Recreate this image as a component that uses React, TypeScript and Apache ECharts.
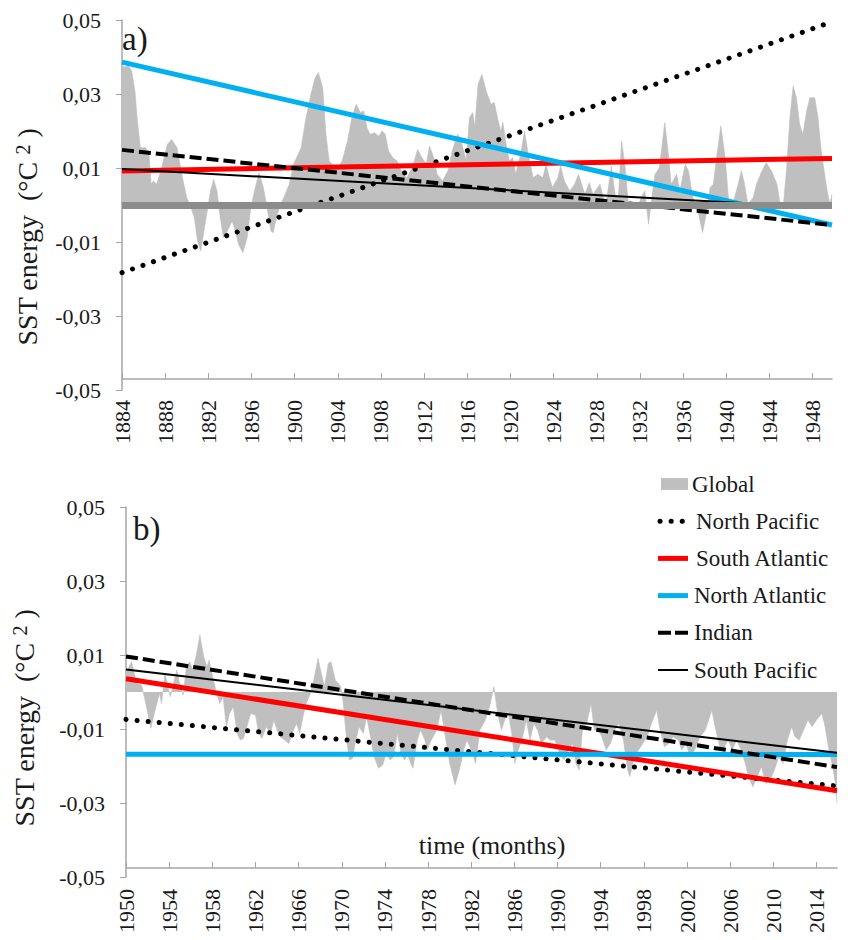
import React, { useEffect, useRef } from 'react';
import * as echarts from 'echarts';

const FONT = 'Liberation Serif';

// ---- axis ticks ----
const tickYearsA = [1884, 1888, 1892, 1896, 1900, 1904, 1908, 1912, 1916, 1920, 1924, 1928, 1932, 1936, 1940, 1944, 1948];
const tickYearsB = [1950, 1954, 1958, 1962, 1966, 1970, 1974, 1978, 1982, 1986, 1990, 1994, 1998, 2002, 2006, 2010, 2014];
const yTicks = [-0.05, -0.03, -0.01, 0.01, 0.03, 0.05];
const spanA = [1884, 1949.8];
const spanB = [1950, 2015.9];

// ---- Global SST energy (°C²), panel a: [year, value] ----
const globalA: [number, number][] = [
  [1884.0, 0.038], [1884.15, 0.0373], [1884.6, 0.0376], [1884.9, 0.0362], [1885.2, 0.0308], [1885.4, 0.0236],
  [1885.7, 0.0155], [1886.2, 0.0155], [1886.5, 0.0137], [1886.7, 0.0056], [1886.9, 0.0065], [1887.2, 0.0056],
  [1887.6, 0.0092], [1888.2, 0.0164], [1888.6, 0.0177], [1889.1, 0.0155], [1889.6, 0.0074], [1890.0, 0.002],
  [1890.3, 0.0], [1890.7, -0.0034], [1891.0, -0.0097], [1891.3, -0.0124], [1891.7, -0.0052], [1892.2, 0.0038],
  [1892.5, 0.0069], [1892.8, 0.0038], [1893.1, -0.0034], [1893.4, -0.0088], [1893.7, -0.0075], [1894.2, -0.0043],
  [1894.5, -0.007], [1894.8, -0.0106], [1895.2, -0.0129], [1895.6, -0.0088], [1895.9, -0.0016], [1896.2, 0.0029],
  [1896.7, 0.0087], [1897.1, 0.0047], [1897.5, -0.0016], [1897.8, -0.007], [1898.0, -0.0075], [1898.4, -0.0025],
  [1898.7, 0.0002], [1899.0, 0.002], [1899.5, 0.0056], [1899.9, 0.011], [1900.6, 0.0155], [1901.0, 0.0227],
  [1901.5, 0.0299], [1901.9, 0.0344], [1902.2, 0.0358], [1902.6, 0.0317], [1902.9, 0.0191], [1903.2, 0.0119],
  [1903.5, 0.011], [1904.0, 0.0101], [1904.4, 0.0119], [1904.9, 0.0173], [1905.3, 0.0236], [1905.7, 0.0272],
  [1906.1, 0.025], [1906.4, 0.0254], [1906.7, 0.0209], [1907.0, 0.0191], [1907.4, 0.0195], [1907.8, 0.0186],
  [1908.1, 0.02], [1908.4, 0.0191], [1908.7, 0.0146], [1909.1, 0.0128], [1909.5, 0.0119], [1910.0, 0.0083],
  [1910.4, 0.0074], [1910.9, 0.0101], [1911.4, 0.015], [1911.8, 0.0128], [1912.2, 0.011], [1912.5, 0.0159],
  [1912.9, 0.0128], [1913.2, 0.0083], [1913.7, 0.0065], [1914.2, 0.0092], [1914.6, 0.0146], [1915.1, 0.0191],
  [1915.4, 0.0177], [1915.9, 0.0119], [1916.2, 0.0236], [1916.5, 0.025], [1916.7, 0.021], [1917.0, 0.0326],
  [1917.35, 0.0353], [1917.75, 0.0308], [1918.2, 0.0272], [1918.5, 0.0277], [1918.8, 0.0236], [1919.1, 0.02],
  [1919.3, 0.0223], [1919.6, 0.0164], [1919.9, 0.0119], [1920.2, 0.0128], [1920.5, 0.0083], [1921.0, 0.0146],
  [1921.3, 0.02], [1921.6, 0.0146], [1922.1, 0.0074], [1922.55, 0.0083], [1923.0, 0.0074], [1923.3, 0.011],
  [1923.6, 0.0074], [1923.9, 0.0047], [1924.4, 0.0074], [1924.65, 0.0105], [1925.0, 0.0065], [1925.5, 0.0038],
  [1925.95, 0.0056], [1926.3, 0.0083], [1926.6, 0.0056], [1926.9, 0.0029], [1927.3, 0.006], [1927.65, 0.0029],
  [1928.3, 0.0056], [1928.6, 0.002], [1928.9, 0.0011], [1929.35, 0.0105], [1929.7, 0.0029], [1930.0, 0.002],
  [1930.3, 0.0173], [1930.6, 0.011], [1930.9, 0.0011], [1931.4, 0.0002], [1931.8, -0.0007], [1932.1, 0.002],
  [1932.45, 0.0038], [1932.8, -0.0052], [1933.1, 0.002], [1933.4, 0.0083], [1933.8, 0.0101], [1934.3, 0.0223],
  [1934.6, 0.0146], [1934.9, 0.0056], [1935.4, 0.0083], [1935.7, 0.0038], [1936.2, 0.011], [1936.5, 0.0092],
  [1936.8, 0.0038], [1937.1, -0.0007], [1937.45, -0.0025], [1937.8, -0.0075], [1938.2, -0.0016], [1938.5, 0.0047],
  [1938.8, 0.0056], [1939.1, 0.0128], [1939.5, 0.0214], [1939.9, 0.0128], [1940.2, 0.002], [1940.6, 0.0002],
  [1941.1, 0.0056], [1941.4, 0.0092], [1941.7, 0.0056], [1942.0, 0.0002], [1942.5, 0.002], [1942.8, 0.0056],
  [1943.3, 0.0092], [1943.7, 0.0114], [1944.2, 0.0092], [1944.7, 0.0056], [1945.0, 0.0002], [1945.3, 0.0002],
  [1945.6, 0.0101], [1945.9, 0.0236], [1946.2, 0.0322], [1946.5, 0.029], [1946.8, 0.0218], [1947.1, 0.0191],
  [1947.45, 0.0254], [1947.75, 0.029], [1948.2, 0.029], [1948.5, 0.0236], [1948.8, 0.0146], [1949.3, 0.0047],
  [1949.6, 0.0002], [1949.8, 0.0029],
];

// ---- Global SST energy (°C²), panel b: [year, value] ----
const globalB: [number, number][] = [
  [1950.0, 0.005], [1950.5, 0.0082], [1951.0, 0.0023], [1951.45, 0.0019], [1951.9, -0.004], [1952.3, -0.0098],
  [1952.7, -0.0049], [1953.1, -0.0004], [1953.3, -0.0031], [1953.6, 0.005], [1953.9, 0.0014], [1954.1, -0.0013],
  [1954.4, 0.0023], [1954.7, 0.0059], [1955.0, 0.0019], [1955.3, -0.0008], [1955.6, 0.0068], [1955.9, 0.0082],
  [1956.2, 0.0059], [1956.55, 0.0105], [1956.85, 0.0154], [1957.2, 0.0095], [1957.5, 0.0068], [1957.7, 0.0086],
  [1958.1, 0.0032], [1958.4, -0.0004], [1958.7, -0.0031], [1959.0, -0.0013], [1959.3, -0.0094], [1959.6, -0.0058],
  [1959.95, -0.004], [1960.3, -0.0112], [1960.6, -0.013], [1960.9, -0.0125], [1961.2, -0.0094], [1961.55, -0.0058],
  [1962.0, -0.0062], [1962.3, -0.0112], [1962.6, -0.0125], [1963.0, -0.0094], [1963.4, -0.0112], [1963.7, -0.0076],
  [1964.0, -0.0103], [1964.3, -0.0121], [1964.7, -0.013], [1965.1, -0.0139], [1965.4, -0.0112], [1965.8, -0.0085],
  [1966.1, -0.0112], [1966.4, -0.0067], [1966.7, -0.0031], [1967.1, -0.0004], [1967.4, 0.0032], [1967.8, 0.0091],
  [1968.1, 0.005], [1968.4, 0.0014], [1968.75, 0.0077], [1969.0, 0.0082], [1969.4, 0.0032], [1969.7, 0.0023],
  [1969.9, 0.0014], [1970.1, -0.0022], [1970.45, -0.013], [1970.7, -0.0184], [1971.0, -0.0179], [1971.3, -0.013],
  [1971.6, -0.0094], [1972.0, -0.0112], [1972.3, -0.0067], [1972.6, -0.0112], [1973.0, -0.0175], [1973.4, -0.0206],
  [1973.8, -0.0197], [1974.1, -0.0166], [1974.5, -0.0184], [1974.8, -0.0175], [1975.15, -0.0112], [1975.5, -0.0166],
  [1975.8, -0.0184], [1976.1, -0.017], [1976.4, -0.0193], [1976.6, -0.0206], [1977.0, -0.013], [1977.3, -0.0103],
  [1977.7, -0.013], [1977.9, -0.0157], [1978.3, -0.013], [1978.8, -0.0103], [1979.2, -0.0049], [1979.6, -0.0121],
  [1980.0, -0.0193], [1980.5, -0.0251], [1980.9, -0.0211], [1981.3, -0.0157], [1981.6, -0.013], [1982.0, -0.0157],
  [1982.4, -0.0193], [1982.8, -0.0103], [1983.3, -0.0076], [1983.7, -0.004], [1984.1, 0.0014], [1984.45, -0.0058],
  [1984.8, -0.0103], [1985.1, -0.0076], [1985.4, -0.0049], [1985.75, -0.0112], [1986.05, -0.0193], [1986.35, -0.0157],
  [1986.7, -0.013], [1987.1, -0.0076], [1987.45, -0.013], [1987.8, -0.0085], [1988.15, -0.0103], [1988.5, -0.0139],
  [1989.0, -0.0121], [1989.3, -0.013], [1989.75, -0.013], [1990.2, -0.0166], [1990.6, -0.0184], [1991.0, -0.0157],
  [1991.4, -0.0139], [1991.7, -0.0193], [1992.0, -0.0211], [1992.3, -0.0103], [1992.7, -0.0085], [1993.1, -0.0031],
  [1993.4, -0.0103], [1993.8, -0.0103], [1994.1, -0.0121], [1994.5, -0.0157], [1994.9, -0.0139], [1995.3, -0.0103],
  [1995.7, -0.0085], [1996.1, -0.013], [1996.5, -0.0211], [1996.7, -0.0229], [1997.1, -0.0175], [1997.5, -0.0157],
  [1997.9, -0.0139], [1998.3, -0.0121], [1998.7, -0.0085], [1999.2, -0.0049], [1999.5, -0.0103], [1999.9, -0.0148],
  [2000.3, -0.0139], [2000.7, -0.0121], [2001.2, -0.013], [2001.5, -0.0157], [2001.9, -0.0139], [2002.3, -0.0175],
  [2002.7, -0.0157], [2003.2, -0.0121], [2003.7, -0.0103], [2004.0, -0.0076], [2004.3, -0.0049], [2004.6, -0.0094],
  [2005.1, -0.0157], [2005.5, -0.0148], [2005.8, -0.013], [2006.2, -0.0157], [2006.6, -0.013], [2007.0, -0.0157],
  [2007.4, -0.0193], [2007.7, -0.0229], [2008.1, -0.0256], [2008.5, -0.0229], [2008.9, -0.0202], [2009.3, -0.0247],
  [2009.7, -0.0238], [2010.1, -0.0211], [2010.5, -0.0175], [2010.9, -0.0193], [2011.3, -0.013], [2011.7, -0.0094],
  [2012.0, -0.0121], [2012.4, -0.013], [2012.8, -0.0103], [2013.2, -0.0076], [2013.6, -0.0094], [2014.0, -0.0076],
  [2014.5, -0.0058], [2014.8, -0.0094], [2015.1, -0.0148], [2015.5, -0.0202], [2015.8, -0.0256], [2015.9, -0.0301],
];

// dark grey reference band in panel a
const globalBandA = -0.001;

// ---- linear trends: value at start and at end of each panel ----
const trendNames = ['North Pacific', 'South Atlantic', 'North Atlantic', 'Indian', 'South Pacific'];
const trendStartA = [-0.0183, 0.0092, 0.0386, 0.0149, 0.0097];
const trendEndA = [0.0495, 0.0126, -0.0054, -0.0054, -0.0008];
const trendStartB = [-0.0074, 0.0036, -0.0168, 0.0096, 0.0061];
const trendEndB = [-0.0254, -0.0267, -0.0169, -0.0203, -0.0164];

const GREY = '#bfbfbf';
const AXIS = '#a6a6a6';
const TXT = '#1a1a1a';

const trendStyle: Record<string, any> = {
  'North Pacific': { color: '#000000', width: 5, type: [0.1, 11], cap: 'round', legendDash: [0.1, 11] },
  'South Atlantic': { color: '#ff0000', width: 5 },
  'North Atlantic': { color: '#00b0f0', width: 5 },
  'Indian': { color: '#000000', width: 4, type: [12, 5], legendDash: [13, 4] },
  'South Pacific': { color: '#000000', width: 2 },
};

function buildOption() {
  const grids = [
    { left: 122, top: 20, width: 710, height: 370 },
    { left: 126, top: 507, width: 711, height: 370 },
  ];
  const spans = [spanA, spanB];
  const ticks = [tickYearsA, tickYearsB];
  const offsets = [-11, -9];

  const xAxis = [0, 1].map((i) => ({
    type: 'value',
    gridIndex: i,
    min: spans[i][0],
    max: spans[i][1],
    offset: offsets[i],
    axisLine: { show: true, onZero: false, lineStyle: { color: AXIS, width: 1.5 } },
    axisTick: { show: true, inside: true, length: 6, customValues: ticks[i], lineStyle: { color: AXIS, width: 1 } },
    axisLabel: {
      show: true,
      rotate: 90,
      margin: 21,
      customValues: ticks[i],
      formatter: (v: number) => String(Math.round(v)),
      fontFamily: FONT,
      fontSize: 22,
      color: TXT,
      padding: [8, 0, 0, 0],
    },
    splitLine: { show: false },
  }));

  const yAxis = [0, 1].map((i) => ({
    type: 'value',
    gridIndex: i,
    min: -0.05,
    max: 0.05,
    axisLine: { show: true, onZero: false, lineStyle: { color: AXIS, width: 1.5 } },
    axisTick: { show: true, inside: false, length: 6, customValues: yTicks, lineStyle: { color: AXIS, width: 1 } },
    axisLabel: {
      show: true,
      margin: 21,
      customValues: yTicks,
      formatter: (v: number) => v.toFixed(2).replace('.', ','),
      fontFamily: FONT,
      fontSize: 22,
      color: TXT,
    },
    splitLine: { show: false },
  }));

  const series: any[] = [];
  const globals = [globalA, globalB];
  const starts = [trendStartA, trendStartB];
  const ends = [trendEndA, trendEndB];
  for (let i = 0; i < 2; i++) {
    const g: any = {
      type: 'line',
      name: 'Global',
      xAxisIndex: i,
      yAxisIndex: i,
      data: globals[i],
      symbol: 'none',
      showSymbol: false,
      lineStyle: { width: 0.6, color: GREY },
      itemStyle: { color: GREY },
      areaStyle: { color: GREY, opacity: 1, origin: 0 },
      emphasis: { disabled: true },
      z: 1,
    };
    if (i === 0) {
      g.markLine = {
        silent: true,
        symbol: 'none',
        label: { show: false },
        lineStyle: { color: '#8c8c8c', width: 7, type: 'solid', opacity: 1 },
        emphasis: { disabled: true },
        data: [{ yAxis: globalBandA }],
      };
    }
    series.push(g);
    trendNames.forEach((name, k) => {
      const st = trendStyle[name];
      series.push({
        type: 'line',
        name,
        xAxisIndex: i,
        yAxisIndex: i,
        data: [
          [spans[i][0], starts[i][k]],
          [spans[i][1], ends[i][k]],
        ],
        symbol: 'none',
        showSymbol: false,
        lineStyle: { color: st.color, width: st.width, type: st.type || 'solid', cap: st.cap || 'butt' },
        itemStyle: { color: st.color },
        emphasis: { disabled: true },
        z: 3,
      });
    });
  }

  const titleRich = {
    t: { fontFamily: FONT, fontSize: 28, color: TXT },
    s: { fontFamily: FONT, fontSize: 20, color: TXT, verticalAlign: 'top', padding: [0, 0, 6, 0] },
  };

  const graphic: any[] = [
    {
      type: 'text',
      x: 27,
      y: 237,
      rotation: Math.PI / 2,
      silent: true,
      style: { text: '{t|SST energy  (°C }{s|2}{t| )}', rich: titleRich, align: 'center', verticalAlign: 'middle', fill: TXT },
    },
    {
      type: 'text',
      x: 24,
      y: 718,
      rotation: Math.PI / 2,
      silent: true,
      style: { text: '{t|SST energy  (°C }{s|2}{t| )}', rich: titleRich, align: 'center', verticalAlign: 'middle', fill: TXT },
    },
    {
      type: 'text', x: 122, y: 39, silent: true,
      style: { text: 'a)', fontFamily: FONT, fontSize: 33, fill: TXT, align: 'left', verticalAlign: 'middle' },
    },
    {
      type: 'text', x: 133, y: 529, silent: true,
      style: { text: 'b)', fontFamily: FONT, fontSize: 33, fill: TXT, align: 'left', verticalAlign: 'middle' },
    },
    {
      type: 'text', x: 492, y: 845, silent: true,
      style: { text: 'time (months)', fontFamily: FONT, fontSize: 26, fill: TXT, align: 'center', verticalAlign: 'middle' },
    },
  ];

  // legend (drawn as graphic elements)
  const legendTop = 484;
  const legendPitch = 37.2;
  graphic.push({
    type: 'rect', silent: true,
    shape: { x: 661, y: legendTop - 6, width: 27, height: 12 },
    style: { fill: GREY },
  });
  graphic.push({
    type: 'text', x: 692, y: legendTop, silent: true,
    style: { text: 'Global', fontFamily: FONT, fontSize: 23, fill: TXT, align: 'left', verticalAlign: 'middle' },
  });
  trendNames.forEach((name, k) => {
    const st = trendStyle[name];
    const y = legendTop + legendPitch * (k + 1);
    graphic.push({
      type: 'line', silent: true,
      shape: { x1: name === 'North Pacific' ? 660 : 658, y1: y, x2: 688, y2: y },
      style: {
        stroke: st.color,
        lineWidth: st.width,
        lineDash: st.legendDash || null,
        lineCap: st.cap || 'butt',
      },
    });
    graphic.push({
      type: 'text', x: name === 'North Pacific' || name === 'South Atlantic' ? 696 : 694, y, silent: true,
      style: { text: name, fontFamily: FONT, fontSize: 23, fill: TXT, align: 'left', verticalAlign: 'middle' },
    });
  });

  return {
    animation: false,
    backgroundColor: '#ffffff',
    textStyle: { fontFamily: FONT },
    grid: grids.map((g) => ({ ...g, containLabel: false })),
    xAxis,
    yAxis,
    series,
    graphic,
  };
}

export default function App() {
  const ref = useRef<HTMLDivElement>(null);
  useEffect(() => {
    if (!ref.current) return;
    const chart = echarts.init(ref.current, undefined, { renderer: 'svg' });
    chart.setOption(buildOption() as any);
    return () => chart.dispose();
  }, []);
  return (
    <div
      ref={ref}
      style={{ position: 'absolute', left: 0, top: 0, width: 851, height: 940, background: '#fff' }}
    />
  );
}
